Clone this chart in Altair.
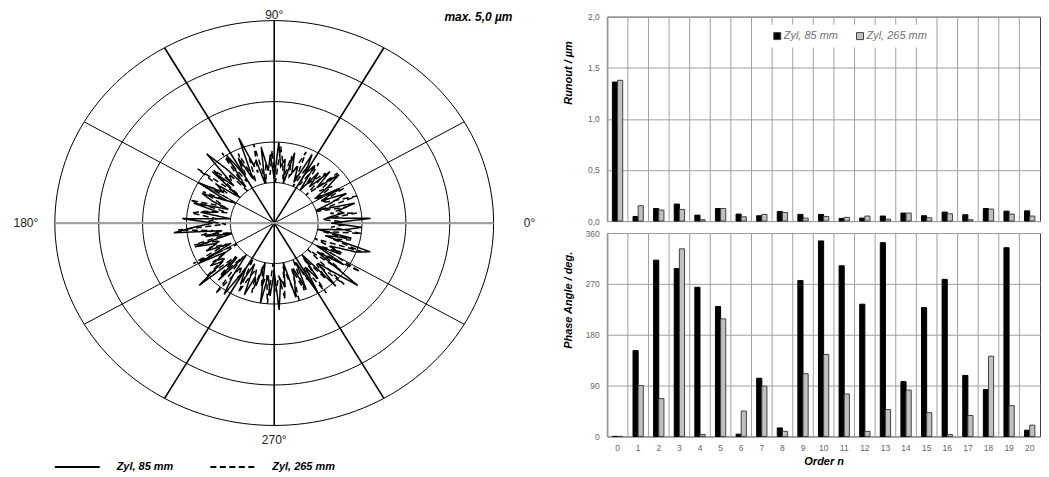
import altair as alt
import pandas as pd

# ---------------- data ----------------
ORDERS = list(range(21))
SERIES = ["Zyl, 85 mm", "Zyl, 265 mm"]
RUNOUT_85 = [1.36, 0.045, 0.123, 0.166, 0.058, 0.123, 0.068, 0.052, 0.094, 0.065, 0.065,
             0.026, 0.029, 0.049, 0.078, 0.052, 0.088, 0.062, 0.123, 0.097, 0.100]
RUNOUT_265 = [1.377, 0.150, 0.107, 0.114, 0.013, 0.123, 0.042, 0.065, 0.084, 0.029, 0.045,
              0.036, 0.049, 0.019, 0.078, 0.032, 0.071, 0.013, 0.117, 0.068, 0.049]
PHASE_85 = [0, 152, 312, 297, 264, 230, 4, 103, 15, 276, 346,
            302, 234, 343, 97, 228, 278, 108, 83, 334, 11]
PHASE_265 = [0, 90, 67, 332, 3.5, 208, 45, 89, 9, 111, 145,
             75, 9, 47.5, 82, 42, 3.5, 37, 142, 54.5, 20]

# polar runout profiles (radius in µm, every 3 degrees)
PROFILE_85 = [
    1.3, 2.2, 1.2, 1.6, 1.5, 1.9, 1.0, 1.4, 1.8, 1.2,
    1.7, 1.1, 1.5, 1.9, 1.3, 1.8, 1.2, 1.6, 1.0, 1.7,
    1.4, 1.9, 1.1, 1.5, 1.3, 1.8, 1.0, 1.6, 1.4, 2.0,
    1.1, 1.7, 1.3, 1.9, 1.0, 1.6, 1.5, 2.25, 1.2, 1.8,
    1.4, 2.0, 1.1, 1.7, 2.3, 1.3, 1.9, 1.0, 1.6, 1.4,
    2.0, 1.2, 1.8, 1.5, 1.1, 1.9, 1.3, 1.7, 1.0, 2.1,
    1.4, 1.8, 2.3, 1.2, 1.6, 1.0, 1.9, 1.4, 1.7, 1.1,
    2.0, 1.3, 1.8, 1.5, 2.3, 1.2, 1.9, 1.0, 1.6, 2.1,
    1.3, 1.7, 1.1, 1.9, 1.4, 1.6, 1.0, 2.0, 1.3, 1.8,
    1.2, 2.15, 1.4, 1.6, 1.0, 1.9, 1.5, 1.2, 1.8, 1.1,
    2.0, 1.3, 1.7, 1.0, 2.1, 1.4, 1.8, 2.45, 1.2, 1.9,
    1.1, 1.7, 1.4, 2.0, 2.3, 1.2, 1.8, 1.0, 1.6, 2.0,
]
PROFILE_265 = [
    1.5, 1.1, 1.9, 1.3, 1.7, 1.0, 2.0, 1.4, 1.2, 1.8,
    1.1, 1.6, 1.3, 1.9, 1.0, 1.7, 1.4, 1.2, 1.8, 1.1,
    1.6, 1.0, 1.9, 1.4, 1.2, 1.7, 1.1, 1.5, 1.9, 1.0,
    1.8, 1.2, 1.5, 1.0, 2.0, 1.3, 1.7, 1.1, 1.9, 1.4,
    1.2, 2.1, 1.0, 1.6, 1.4, 1.9, 1.1, 2.2, 1.3, 1.7,
    1.0, 1.8, 1.4, 1.2, 2.0, 1.1, 1.6, 1.9, 1.3, 1.5,
    1.1, 2.2, 1.4, 1.7, 1.0, 1.9, 1.3, 1.6, 1.2, 2.1,
    1.0, 1.7, 1.4, 2.0, 1.2, 1.8, 1.1, 2.2, 1.3, 1.6,
    1.0, 1.9, 1.4, 1.2, 1.8, 1.1, 1.6, 1.3, 2.0, 1.0,
    1.7, 1.3, 1.9, 1.1, 1.5, 2.0, 1.2, 1.8, 1.0, 1.6,
    1.3, 2.1, 1.1, 1.8, 1.4, 2.2, 1.0, 1.9, 1.3, 2.3,
    1.2, 1.7, 1.0, 2.1, 1.4, 1.8, 1.1, 2.0, 1.3, 1.6,
]
RING_RADII = [1, 2, 3, 4, 5]
SPOKE_ANGLES = [0, 30, 60, 90, 120, 150, 180, 210, 240, 270, 300, 330]
ANGLE_LABELS = ["0°", "90°", "180°", "270°"]
ANGLE_LABEL_POS = [0, 90, 180, 270]
ANGLE_LABEL_R = [5.82, 5.13, 5.66, 5.37]
MAX_LABEL = "max. 5,0 µm"

FONT = "Liberation Sans"

# ---------------- tables ----------------
def profile_rows(vals, name, offset):
    step = 360 / len(vals)
    closed = vals + [vals[0]]
    return [{"i": i, "a": offset + i * step, "r": r, "s": name} for i, r in enumerate(closed)]

prof = pd.DataFrame(profile_rows(PROFILE_85, SERIES[0], 0) + profile_rows(PROFILE_265, SERIES[1], 1.5))
rings = pd.DataFrame([{"ring": rr, "a": a, "r": rr} for rr in RING_RADII for a in range(0, 362, 2)])
spokes = pd.DataFrame({"a": SPOKE_ANGLES, "r": [RING_RADII[-1]] * len(SPOKE_ANGLES)})
alabels = pd.DataFrame({"t": ANGLE_LABELS, "a": ANGLE_LABEL_POS, "r": ANGLE_LABEL_R})
maxlab = pd.DataFrame({"t": [MAX_LABEL], "px": [5.43], "py": [5.10]})
bars = pd.DataFrame({
    "n": ORDERS * 2,
    "s": [SERIES[0]] * len(ORDERS) + [SERIES[1]] * len(ORDERS),
    "runout": RUNOUT_85 + RUNOUT_265,
    "phase": PHASE_85 + PHASE_265,
})
grid_n = pd.DataFrame({"n": ORDERS})

# ---------------- polar chart ----------------
XS = alt.Scale(domain=[-6.045, 6.227], nice=False, zero=False)
YS = alt.Scale(domain=[-6.133, 5.0985], nice=False, zero=False)
calc = dict(px="datum.r*cos(datum.a*PI/180)", py="datum.r*sin(datum.a*PI/180)")
GRID = "#a0a0a0"
LAB = "#666666"

ring_layer = alt.Chart(rings).transform_calculate(**calc).mark_line(
    color="black", strokeWidth=1
).encode(
    x=alt.X("px:Q", scale=XS, axis=None),
    y=alt.Y("py:Q", scale=YS, axis=None),
    detail="ring:N",
    order="a:Q",
)

def spoke_layer(angles, color, width):
    return alt.Chart(spokes).transform_filter(
        alt.FieldOneOfPredicate(field="a", oneOf=angles)
    ).transform_calculate(x0="0", y0="0", **calc).mark_rule(
        color=color, strokeWidth=width
    ).encode(
        x=alt.X("x0:Q", scale=XS, axis=None),
        y=alt.Y("y0:Q", scale=YS, axis=None),
        x2="px:Q",
        y2="py:Q",
    )

profile_layer = alt.Chart(prof).transform_calculate(**calc).mark_line(
    color="black", strokeWidth=1.5
).encode(
    x=alt.X("px:Q", scale=XS, axis=None),
    y=alt.Y("py:Q", scale=YS, axis=None),
    order="i:Q",
    strokeDash=alt.StrokeDash(
        "s:N",
        scale=alt.Scale(domain=SERIES, range=[[1, 0], [6, 3.5]]),
        legend=alt.Legend(
            title=None, orient="none", legendX=45, legendY=428, direction="horizontal",
            symbolType="stroke", symbolSize=2025, symbolStrokeWidth=2,
            symbolStrokeColor="black", labelFont=FONT, labelFontSize=11,
            labelFontWeight="bold", labelFontStyle="italic", labelColor="black",
            labelOffset=16, columnPadding=33, padding=0,
        ),
    ),
)

angle_text = alt.Chart(alabels).transform_calculate(**calc).mark_text(
    font=FONT, fontSize=12, color="#222222", align="center", baseline="middle"
).encode(
    x=alt.X("px:Q", scale=XS, axis=None),
    y=alt.Y("py:Q", scale=YS, axis=None),
    text="t:N",
)
max_text = alt.Chart(maxlab).mark_text(
    font=FONT, fontSize=12, fontWeight="bold", fontStyle="italic",
    color="black", align="right", baseline="middle"
).encode(
    x=alt.X("px:Q", scale=XS, axis=None),
    y=alt.Y("py:Q", scale=YS, axis=None),
    text="t:N",
)

polar = alt.layer(
    ring_layer,
    spoke_layer([30, 150, 210, 330], "black", 1.0),
    spoke_layer([60, 90, 120, 240, 270, 300], "black", 1.6),
    spoke_layer([0, 180], "#a0a0a0", 2.2),
    profile_layer, angle_text, max_text,
).properties(width=540, height=456)

# ---------------- bar charts ----------------
XB = alt.Scale(paddingInner=0, paddingOuter=0)
XO = alt.XOffset("s:N", scale=alt.Scale(domain=SERIES, paddingInner=0, paddingOuter=1))
FILL_SCALE = alt.Scale(range=["#000000", "#c0c0c0"])
STROKE_SCALE = alt.Scale(range=["#000000", "#404040"])

def yaxis(vals, title, ty, expr=None):
    kw = dict(
        values=vals, grid=True, gridColor=GRID, domain=False, ticks=False,
        labelPadding=8, labelFont=FONT, labelFontSize=8.5, labelColor=LAB,
        title=title, titleFont=FONT, titleFontSize=11, titleFontWeight="bold",
        titleFontStyle="italic", titleColor="black", titleX=-39, titleY=ty,
        titleAngle=270, titleAlign="center", titleBaseline="middle",
    )
    if expr:
        kw["labelExpr"] = expr
    return alt.Axis(**kw)

def vgrid(axis):
    return alt.Chart(grid_n).mark_rule(color=GRID, strokeWidth=1).encode(
        x=alt.X("n:O", bandPosition=0, scale=XB, axis=axis)
    )

top_bars = alt.Chart(bars).mark_bar(strokeWidth=1).encode(
    x=alt.X("n:O", scale=XB, axis=None),
    xOffset=XO,
    y=alt.Y("runout:Q", scale=alt.Scale(domain=[0, 2], nice=False),
            axis=yaxis([0, 0.5, 1, 1.5, 2], "Runout / µm", 56,
                       "replace(format(datum.value, '.1f'), '.', ',')")),
    fill=alt.Fill("s:N", sort=SERIES, scale=FILL_SCALE, legend=alt.Legend(
        title=None, orient="none", legendX=759, legendY=8, direction="horizontal",
        symbolType="square", symbolSize=49, symbolStrokeColor="#404040",
        symbolStrokeWidth=1, labelFont=FONT, labelFontSize=11,
        labelFontStyle="italic", labelColor="#707070", labelOffset=1,
        columnPadding=16, fillColor="white", padding=6,
    )),
    stroke=alt.Stroke("s:N", sort=SERIES, scale=STROKE_SCALE, legend=None),
)
top = alt.layer(vgrid(None), top_bars).properties(
    width=434, height=205, view=alt.ViewBackground(stroke="#404040", strokeWidth=1)
)

XAXIS = alt.Axis(
    labelAngle=0, ticks=False, domain=False, grid=False, labelPadding=7,
    labelFont=FONT, labelFontSize=8.5, labelColor=LAB,
    title="Order n", titleFont=FONT, titleFontSize=11, titleFontWeight="bold",
    titleFontStyle="italic", titleColor="black", titleY=25, titleBaseline="middle",
)
bot_bars = alt.Chart(bars).mark_bar(strokeWidth=1).encode(
    x=alt.X("n:O", scale=XB, axis=XAXIS),
    xOffset=XO,
    y=alt.Y("phase:Q", scale=alt.Scale(domain=[0, 360], nice=False),
            axis=yaxis([0, 90, 180, 270, 360], "Phase Angle / deg.", 67)),
    fill=alt.Fill("s:N", sort=SERIES, scale=FILL_SCALE, legend=None),
    stroke=alt.Stroke("s:N", sort=SERIES, scale=STROKE_SCALE, legend=None),
)
bottom = alt.layer(vgrid(XAXIS), bot_bars).properties(
    width=434, height=204, view=alt.ViewBackground(stroke="#404040", strokeWidth=1)
)

right = alt.vconcat(top, bottom, spacing=12, bounds="flush")

chart = alt.hconcat(polar, right, spacing=60, bounds="flush").properties(
    padding=0
).configure(font=FONT).configure_view(stroke="transparent")

chart.save("out.html", embed_options={"renderer": "svg", "actions": False})
